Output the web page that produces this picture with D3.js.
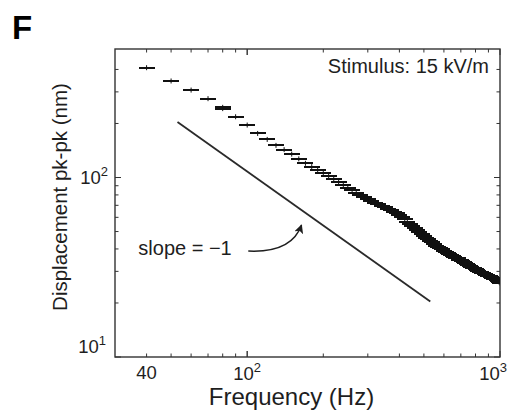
<!DOCTYPE html>
<html>
<head>
<meta charset="utf-8">
<script src="https://cdn.jsdelivr.net/npm/d3@7"></script>
<style>
  body { margin: 0; background: #fff; }
  text { font-family: "Liberation Sans", Arial, sans-serif; fill: #1e1e1e; }
</style>
</head>
<body>
<div id="chart"></div>
<script>
// frequency (Hz) and pk-pk displacement (nm)
const freqs = [40, 50, 60, 70, 80, 80, 90, 100, 110, 120, 130, 140, 150, 160, 170,
  180, 190, 200, 210, 220, 230, 240, 250, 260, 270, 280, 290, 300, 310, 320, 330, 340, 350,
  360, 370, 380, 390, 400, 410, 420, 430, 440, 450, 460, 470, 480, 490, 500, 510, 520, 530,
  540, 550, 560, 570, 580, 590, 600, 610, 620, 630, 640, 650, 660, 670, 680, 690, 700, 710,
  720, 730, 740, 750, 760, 770, 780, 790, 800, 810, 820, 830, 840, 850, 860, 870, 880, 890,
  900, 910, 920, 930, 940, 950, 960, 970, 980, 990, 1000];
const displacement = [409, 345, 307, 275, 246, 242, 218, 196, 176, 163, 151, 143, 135, 127, 120,
  115, 110.5, 106, 102, 98, 94.3, 91, 87.8, 84.9, 82.2, 79.7, 77.8, 75.9, 74.2, 72.5, 71, 69.5, 68.1,
  66.8, 65.5, 64.2, 63.1, 61.9, 60.2, 58.4, 56.6, 55, 53.5, 52.2, 50.8, 49.6, 48.4, 47.3, 46.3, 45.3, 44.4,
  43.5, 42.7, 41.8, 41, 40.3, 39.8, 39.2, 38.7, 38.2, 37.7, 37.2, 36.7, 36.2, 35.8, 35.4, 34.9, 34.5, 34.1,
  33.7, 33.3, 32.9, 32.5, 32.2, 31.8, 31.5, 31.2, 30.8, 30.5, 30.2, 29.9, 29.7, 29.4, 29.2, 29, 28.7, 28.5,
  28.3, 28.1, 27.9, 27.7, 27.5, 27.3, 27.1, 26.9, 26.6, 26.2, 25.8];

// reference line with slope -1
const slopeFreq = [53, 530];
const slopeDisp = [204, 20.4];

// arrow: start, control, tip (Hz, nm)
const arrowFreq = [101, 150, 164];
const arrowDisp = [38.9, 37.9, 54.3];
const slopeLabelAt = [37.1, 36.9];

const xTicks = [40, 50, 60, 70, 80, 90, 100, 200, 300, 400, 500, 600, 700, 800, 900];
const yTicks = [20, 30, 40, 50, 60, 70, 80, 90, 100, 200, 300, 400];
const xMajor = [100, 1000];
const yMajor = [10, 100];

const W = 508, H = 414;
const margin = { top: 49, right: 8, bottom: 57, left: 115 };

const svg = d3.select('#chart').append('svg')
    .attr('width', W)
    .attr('height', H);

const x = d3.scaleLog().domain([30, 1000]).range([margin.left, W - margin.right]);
const y = d3.scaleLog().domain([10, 520]).range([H - margin.bottom, margin.top]);

const x0 = x.range()[0], x1 = x.range()[1];
const y0 = y.range()[0], y1 = y.range()[1];

svg.append('clipPath').attr('id', 'plot-clip')
  .append('rect')
    .attr('x', x0).attr('y', y1)
    .attr('width', x1 - x0).attr('height', y0 - y1);

// ticks on all four sides, pointing inward
const tickColor = '#333';
function tickLen(v, majors) { return majors.includes(v) ? 6 : 3.5; }

const axes = svg.append('g').attr('stroke', tickColor).attr('stroke-width', 1);
xTicks.concat(xMajor).forEach(v => {
    const len = tickLen(v, xMajor);
    axes.append('line').attr('x1', x(v)).attr('x2', x(v)).attr('y1', y0).attr('y2', y0 - len);
    axes.append('line').attr('x1', x(v)).attr('x2', x(v)).attr('y1', y1).attr('y2', y1 + len);
});
yTicks.concat(yMajor).forEach(v => {
    const len = tickLen(v, yMajor);
    axes.append('line').attr('y1', y(v)).attr('y2', y(v)).attr('x1', x0).attr('x2', x0 + len);
    axes.append('line').attr('y1', y(v)).attr('y2', y(v)).attr('x1', x1).attr('x2', x1 - len);
});

svg.append('rect')
    .attr('x', x0).attr('y', y1)
    .attr('width', x1 - x0).attr('height', y0 - y1)
    .attr('fill', 'none')
    .attr('stroke', tickColor)
    .attr('stroke-width', 1.4);

// data: short horizontal bars with a small centre tick
const data = freqs.map((f, i) => ({ f: f, d: displacement[i] }));
const marks = svg.append('g').attr('clip-path', 'url(#plot-clip)');

marks.selectAll('.bar')
    .data(data)
  .enter().append('line')
    .attr('class', 'bar')
    .attr('x1', d => x(d.f) - 8)
    .attr('x2', d => x(d.f) + 8)
    .attr('y1', d => y(d.d))
    .attr('y2', d => y(d.d))
    .attr('stroke', '#111')
    .attr('stroke-width', 2)
    .attr('shape-rendering', 'crispEdges');

marks.selectAll('.tick-mark')
    .data(data)
  .enter().append('line')
    .attr('class', 'tick-mark')
    .attr('x1', d => x(d.f))
    .attr('x2', d => x(d.f))
    .attr('y1', d => y(d.d) - 2.5)
    .attr('y2', d => y(d.d) + 2.5)
    .attr('stroke', '#111')
    .attr('stroke-width', 1);

// slope = -1 reference line
svg.append('path')
    .datum(slopeFreq.map((f, i) => [f, slopeDisp[i]]))
    .attr('d', d3.line().x(d => x(d[0])).y(d => y(d[1])))
    .attr('fill', 'none')
    .attr('stroke', '#2a2a2a')
    .attr('stroke-width', 1.8);

// curved arrow
svg.append('defs').append('marker')
    .attr('id', 'arrow')
    .attr('viewBox', '0 0 10 10')
    .attr('refX', 9).attr('refY', 5)
    .attr('markerWidth', 9).attr('markerHeight', 9)
    .attr('markerUnits', 'userSpaceOnUse')
    .attr('orient', 'auto')
  .append('path')
    .attr('d', 'M0,0 L10,5 L0,10 L2.5,5 Z')
    .attr('fill', '#1e1e1e');

const ap = arrowFreq.map((f, i) => [x(f), y(arrowDisp[i])]);
svg.append('path')
    .attr('d', `M${ap[0][0]},${ap[0][1]} Q${ap[1][0]},${ap[1][1]} ${ap[2][0]},${ap[2][1]}`)
    .attr('fill', 'none')
    .attr('stroke', '#1e1e1e')
    .attr('stroke-width', 1.5)
    .attr('marker-end', 'url(#arrow)');

svg.append('text')
    .attr('x', x(slopeLabelAt[0]))
    .attr('y', y(slopeLabelAt[1]))
    .attr('font-size', 20)
    .text('slope = \u22121');

svg.append('text')
    .attr('x', x1 - 11)
    .attr('y', y1 + 24)
    .attr('text-anchor', 'end')
    .attr('font-size', 20)
    .text('Stimulus: 15 kV/m');

// tick labels
const tickFont = 18.5;
function powLabel(g, px, py, anchor, base, exp) {
    const t = g.append('text')
        .attr('x', px).attr('y', py)
        .attr('text-anchor', anchor)
        .attr('font-size', tickFont);
    t.append('tspan').text(base);
    if (exp) t.append('tspan').attr('dy', -8).attr('font-size', 13).text(exp);
}

const labels = svg.append('g');
powLabel(labels, x(40), y0 + 22, 'middle', '40', null);
powLabel(labels, x(100), y0 + 23, 'middle', '10', '2');
powLabel(labels, x(1000) + 7, y0 + 23, 'end', '10', '3');
powLabel(labels, x0 - 7, y(100) + 6, 'end', '10', '2');
powLabel(labels, x0 - 9, y(10) - 4, 'end', '10', '1');

// axis titles
svg.append('text')
    .attr('x', (x0 + x1) / 2 - 16)
    .attr('y', H - 9)
    .attr('text-anchor', 'middle')
    .attr('font-size', 24)
    .text('Frequency (Hz)');

svg.append('text')
    .attr('transform', `translate(67,${(y0 + y1) / 2 - 6}) rotate(-90)`)
    .attr('text-anchor', 'middle')
    .attr('font-size', 20.5)
    .text('Displacement pk-pk (nm)');

svg.append('text')
    .attr('x', 12)
    .attr('y', 39)
    .attr('font-size', 33)
    .attr('font-weight', 'bold')
    .style('fill', '#000')
    .text('F');
</script>
</body>
</html>
